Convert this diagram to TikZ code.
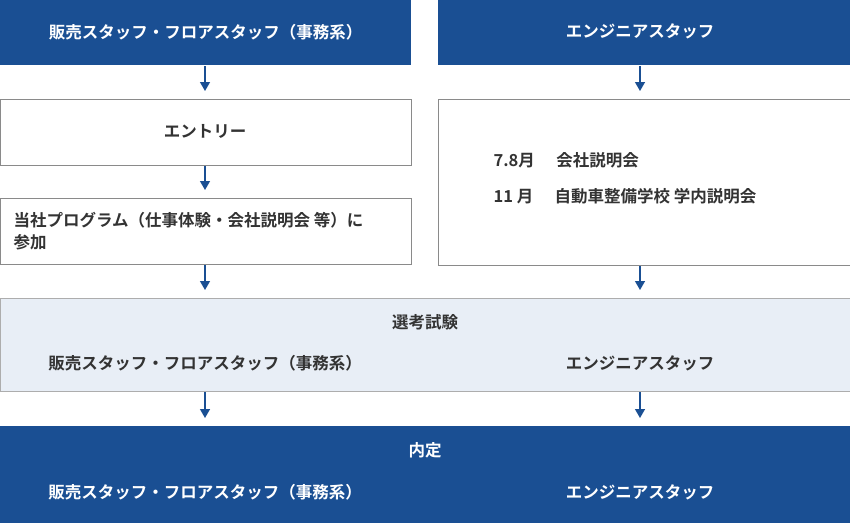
\documentclass[tikz,border=0pt]{standalone}
\usepackage{fontspec}
\newfontfamily\cjk{Noto Sans CJK JP}[BoldFont={Noto Sans CJK JP Bold}]
\usetikzlibrary{arrows.meta}
\definecolor{navy}{HTML}{1A4F93}
\definecolor{pale}{HTML}{E8EEF6}
\definecolor{ink}{HTML}{333333}
\definecolor{rim}{HTML}{8A8A8A}
\tikzset{
  box/.style={minimum width=#1,inner sep=0pt,outer sep=0pt},
  head/.style={fill=navy,draw=none,text=white,font=\cjk\bfseries\fontsize{16.5}{20}\selectfont},
  stage/.style={fill=white,draw=rim,line width=0.8pt},
  lbl/.style={text=ink,font=\cjk\bfseries\fontsize{16.5}{22}\selectfont},
  flow/.style={navy,line width=1.3pt,-{Triangle[length=9pt,width=10pt]},shorten >=8pt,shorten <=1pt}
}
\begin{document}
\begin{tikzpicture}[x=1pt,y=-1pt]
  \useasboundingbox (0,0) rectangle (850,523);
  % boxes
  \node[head,box=411pt,minimum height=65pt] (hl) at (205.5,32.5) {販売スタッフ・フロアスタッフ（事務系）};
  \node[head,box=412pt,minimum height=65pt] (hr) at (644,32.5) {};
  \node[head] at (640,31) {エンジニアスタッフ};
  \node[stage,box=411pt,minimum height=66pt] (entry) at (205.5,132) {};
  \node[stage,box=411pt,minimum height=66pt] (prog) at (205.5,231) {};
  \node[stage,box=412pt,minimum height=166pt] (info) at (644,182) {};
  \node[fill=pale,draw=rim!70,line width=0.8pt,box=850pt,minimum height=93pt] (sel) at (425,344.5) {};
  \node[fill=navy,box=850pt,minimum height=97pt] (off) at (425,474.5) {};
  % texts
  \node[lbl] at (205,131) {エントリー};
  \node[lbl,align=left,anchor=west] at (10,231) {当社プログラム（仕事体験・会社説明会 等）に\\参加};
  \node[lbl,anchor=west] at (490,160) {7.8月\hspace{1.3em}会社説明会};
  \node[lbl,anchor=west] at (490,196) {11 月\hspace{1.3em}自動車整備学校 学内説明会};
  \node[lbl] at (425,322) {選考試験};
  \node[lbl] at (205,363) {販売スタッフ・フロアスタッフ（事務系）};
  \node[lbl] at (640,363) {エンジニアスタッフ};
  \node[head] at (425,450) {内定};
  \node[head] at (205,492) {販売スタッフ・フロアスタッフ（事務系）};
  \node[head] at (640,492) {エンジニアスタッフ};
  % arrows
  \draw[flow] (hl.south -| 205,0) -- (entry.north -| 205,0);
  \draw[flow] (entry.south -| 205,0) -- (prog.north -| 205,0);
  \draw[flow] (prog.south -| 205,0) -- (sel.north -| 205,0);
  \draw[flow] (hr.south -| 640,0) -- (info.north -| 640,0);
  \draw[flow] (info.south -| 640,0) -- (sel.north -| 640,0);
  \draw[flow] (sel.south -| 205,0) -- (off.north -| 205,0);
  \draw[flow] (sel.south -| 640,0) -- (off.north -| 640,0);
\end{tikzpicture}
\end{document}
